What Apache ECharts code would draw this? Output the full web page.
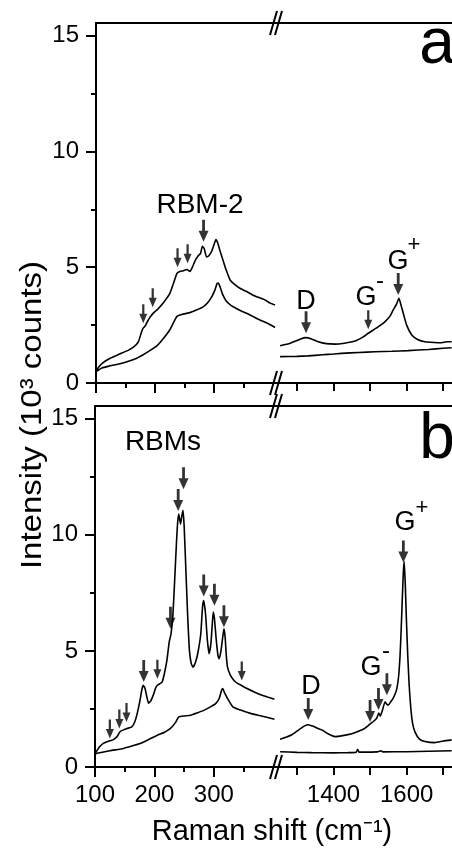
<!DOCTYPE html>
<html>
<head>
<meta charset="utf-8">
<script src="https://cdn.jsdelivr.net/npm/echarts@6/dist/echarts.min.js"></script>
<style>
html,body{margin:0;padding:0;background:#fff;}
#chart{width:452px;height:849px;}
</style>
</head>
<body>
<div id="chart"></div>
<script>
// ---------------- DATA ----------------
// x ranges (Raman shift, cm^-1) and y range (10^3 counts)
const lowRange = [100, 408];
const highRange = [1251, 1724];
const yRange = [0, 15.55];
const yTicks = [0, 5, 10, 15];
const yMinorTicks = [2.5, 7.5, 12.5];
const lowTicks = [100, 200, 300];
const lowMinorTicks = [150, 250, 350];
const highTicks = [1300, 1400, 1500, 1600, 1700];
const highLabels = [1400, 1600];

// Panel a, RBM region
const aLowUpper = [[100,0.49],[105,0.7],[112,0.88],[124,1.07],[140,1.25],[155,1.42],[166,1.6],[172,1.8],[177,2.2],[180,2.38],[183,2.45],[188,2.7],[192,2.86],[197,3.02],[205,3.2],[215,3.5],[225,3.87],[231,4.3],[237,4.74],[242,4.82],[248,4.85],[254,4.9],[259,4.82],[263,5.0],[268,5.3],[273,5.5],[277,5.6],[280,5.9],[283,5.82],[287,5.45],[291,5.5],[296,5.7],[300,6.0],[303,6.2],[306,6.05],[310,5.7],[315,5.3],[320,4.9],[327,4.45],[335,4.25],[345,4.07],[355,3.95],[365,3.8],[375,3.7],[385,3.6],[395,3.45],[403,3.37]];
const aLowLower = [[100,0.49],[110,0.65],[122,0.73],[135,0.8],[150,0.9],[169,1.07],[185,1.3],[203,1.6],[215,1.95],[225,2.3],[232,2.65],[237,2.88],[245,2.96],[259,3.04],[270,3.15],[282,3.3],[290,3.5],[296,3.73],[301,4.0],[305,4.3],[307,4.32],[310,4.15],[314,3.85],[320,3.55],[327,3.38],[333,3.28],[345,3.12],[361,2.94],[375,2.75],[390,2.58],[403,2.4]];
// Panel a, D/G region
const aHighUpper = [[1254,1.61],[1275,1.68],[1295,1.8],[1310,1.9],[1324,1.96],[1340,1.9],[1358,1.78],[1380,1.7],[1404,1.68],[1430,1.72],[1459,1.81],[1480,1.98],[1495,2.15],[1520,2.4],[1541,2.65],[1555,2.9],[1563,3.15],[1572,3.4],[1579,3.66],[1584,3.4],[1591,3.0],[1600,2.5],[1614,2.07],[1630,1.88],[1650,1.78],[1675,1.75],[1696,1.74],[1710,1.78],[1723,1.78]];
const aHighLower = [[1254,1.14],[1300,1.15],[1330,1.17],[1370,1.22],[1400,1.25],[1422,1.28],[1470,1.32],[1513,1.35],[1560,1.37],[1604,1.4],[1660,1.45],[1700,1.5],[1723,1.52]];
// Panel b, RBM region
const bLowUpper = [[100,0.56],[107,0.85],[114,1.02],[125,1.13],[131,1.18],[137,1.3],[142,1.52],[148,1.6],[154,1.66],[162,1.73],[167,1.95],[171,2.3],[176,2.9],[179,3.35],[181,3.52],[184,3.4],[187,3.05],[190,2.75],[194,2.85],[199,3.16],[202,3.4],[205,3.52],[210,3.6],[213,3.66],[217,4.05],[221,4.59],[225,5.4],[228,5.74],[231,6.5],[234,8.0],[237,9.6],[239,10.5],[241,10.9],[244,10.46],[246,10.8],[248,11.06],[250,10.4],[253,8.45],[256,6.5],[259,5.0],[262,4.45],[265,4.3],[269,4.5],[273,4.9],[278,5.73],[281,6.9],[283,7.17],[286,6.6],[289,5.5],[292,4.88],[295,5.3],[297,6.0],[299,6.67],[301,6.4],[304,5.5],[307,4.8],[309,4.66],[312,5.0],[315,5.6],[317,5.95],[319,5.6],[321,4.8],[323,4.3],[328,3.95],[334,3.73],[340,3.6],[346,3.52],[356,3.38],[368,3.23],[380,3.1],[392,3.0],[402,2.92]];
const bLowLower = [[100,0.56],[108,0.61],[125,0.7],[148,0.8],[162,0.9],[176,1.01],[190,1.18],[205,1.37],[217,1.5],[227,1.66],[235,1.9],[241,2.16],[250,2.2],[261,2.23],[272,2.33],[284,2.45],[295,2.6],[303,2.73],[309,2.95],[313,3.3],[315,3.38],[318,3.2],[323,2.95],[332,2.59],[345,2.45],[363,2.3],[380,2.2],[402,2.06]];
// Panel b, D/G region
const bHighUpper = [[1254,1.2],[1270,1.28],[1286,1.39],[1305,1.6],[1320,1.76],[1331,1.82],[1345,1.75],[1358,1.66],[1368,1.6],[1385,1.43],[1404,1.31],[1425,1.35],[1450,1.43],[1470,1.55],[1486,1.67],[1500,1.85],[1509,1.96],[1518,2.1],[1524,2.32],[1528,2.2],[1533,2.4],[1541,2.81],[1546,2.7],[1550,2.67],[1556,2.8],[1563,2.96],[1572,3.3],[1578,3.9],[1582,4.8],[1585,5.9],[1588,7.2],[1591,8.4],[1593,8.85],[1596,8.0],[1599,6.5],[1603,4.8],[1607,3.5],[1611,2.6],[1616,1.9],[1623,1.5],[1635,1.2],[1650,1.1],[1677,1.05],[1700,1.12],[1723,1.17]];
const bHighLower = [[1254,0.66],[1300,0.63],[1340,0.62],[1400,0.61],[1440,0.62],[1462,0.64],[1466,0.76],[1470,0.64],[1520,0.65],[1530,0.7],[1535,0.65],[1600,0.66],[1660,0.68],[1723,0.7]];

// Arrow tips
const aLowArrowsSmall = [[180,2.58],[196,3.27],[238,5.0],[255,5.17]];
const aLowArrowsBig = [[282,6.1]];
const aHighArrowsSmall = [[1495,2.32]];
const aHighArrowsBig = [[1325,2.15],[1577,3.8]];
const bLowArrowsSmall = [[125,1.23],[141,1.66],[153,1.94],[205,3.8],[347,3.73]];
const bLowArrowsBig = [[182,3.66],[227,5.95],[240,11.03],[249,11.96],[283,7.34],[301,6.95],[317,6.02]];
const bHighArrowsSmall = [];
const bHighArrowsBig = [[1331,2.02],[1500,1.94],[1523,2.45],[1546,3.09],[1591,8.81]];

// ---------------- CHART ----------------
const FONT = "'Liberation Sans', Arial, sans-serif";
const chart = echarts.init(document.getElementById('chart'), null, {renderer: 'canvas'});

const grids = [
  {left: 96, top: 23, width: 182, height: 360},   // a low
  {left: 279, top: 23, width: 173, height: 360},  // a high
  {left: 95, top: 406, width: 183, height: 361},  // b low
  {left: 279, top: 406, width: 173, height: 361}  // b high
];

const xAxes = [], yAxes = [], series = [];
const axisLineStyle = {color: '#000', width: 2};
const arrowPath = 'path://M3.6,0 L6.4,0 L6.4,11 L10,11 L5,22 L0,11 L3.6,11 Z';
const plainNum = v => String(v);

function addPanel(gi, isLow, showXLabels, upper, lower, arrowsSmall, arrowsBig) {
  const range = isLow ? lowRange : highRange;
  const xi = xAxes.length;
  xAxes.push({
    gridIndex: gi, type: 'value', position: 'bottom', min: range[0], max: range[1],
    axisLine: {show: true, onZero: false, lineStyle: axisLineStyle},
    axisTick: {show: true, inside: false, length: isLow ? 10 : 8, lineStyle: {width: 2, color: '#000'},
               customValues: isLow ? lowTicks : highTicks},
    axisLabel: {show: showXLabels, customValues: isLow ? lowTicks : highLabels, color: '#000',
                fontSize: 24, fontFamily: FONT, margin: 16, formatter: plainNum},
    splitLine: {show: false}
  });
  if (isLow) {
    xAxes.push({
      gridIndex: gi, type: 'value', position: 'bottom', min: range[0], max: range[1],
      axisLine: {show: false, onZero: false},
      axisTick: {show: true, length: 5, lineStyle: {width: 2, color: '#000'}, customValues: lowMinorTicks},
      axisLabel: {show: false}, splitLine: {show: false}
    });
  }
  xAxes.push({
    gridIndex: gi, type: 'value', position: 'top', min: range[0], max: range[1],
    axisLine: {show: true, onZero: false, lineStyle: axisLineStyle},
    axisTick: {show: false}, axisLabel: {show: false}, splitLine: {show: false}
  });
  const yi = yAxes.length;
  yAxes.push({
    gridIndex: gi, type: 'value', position: 'left', min: yRange[0], max: yRange[1], show: isLow,
    axisLine: {show: true, onZero: false, lineStyle: axisLineStyle},
    axisTick: {show: true, length: 10, lineStyle: {width: 2, color: '#000'}, customValues: yTicks},
    axisLabel: {show: true, customValues: yTicks, color: '#000', fontSize: 24, fontFamily: FONT, margin: 17,
                formatter: plainNum},
    splitLine: {show: false}
  });
  if (isLow) {
    yAxes.push({
      gridIndex: gi, type: 'value', position: 'left', min: yRange[0], max: yRange[1],
      axisLine: {show: false, onZero: false},
      axisTick: {show: true, length: 5, lineStyle: {width: 2, color: '#000'}, customValues: yMinorTicks},
      axisLabel: {show: false}, splitLine: {show: false}
    });
  }
  [upper, lower].forEach(d => {
    series.push({
      type: 'line', xAxisIndex: xi, yAxisIndex: yi, data: d, showSymbol: false,
      smooth: 0.15, lineStyle: {color: '#000', width: 1.6}, silent: true, z: 3
    });
  });
  series.push({
    type: 'scatter', xAxisIndex: xi, yAxisIndex: yi, data: arrowsSmall,
    symbol: arrowPath, symbolSize: [8, 19], symbolOffset: [0, '-50%'],
    itemStyle: {color: '#000'}, silent: true, z: 4
  });
  series.push({
    type: 'scatter', xAxisIndex: xi, yAxisIndex: yi, data: arrowsBig,
    symbol: arrowPath, symbolSize: [10, 22], symbolOffset: [0, '-50%'],
    itemStyle: {color: '#000'}, silent: true, z: 4
  });
}

addPanel(0, true, false, aLowUpper, aLowLower, aLowArrowsSmall, aLowArrowsBig);
addPanel(1, false, false, aHighUpper, aHighLower, aHighArrowsSmall, aHighArrowsBig);
addPanel(2, true, true, bLowUpper, bLowLower, bLowArrowsSmall, bLowArrowsBig);
addPanel(3, false, true, bHighUpper, bHighLower, bHighArrowsSmall, bHighArrowsBig);

// decorations: axis break marks and text annotations
const graphics = [];
function brk(x, y) {
  [0, 5].forEach(dx => {
    graphics.push({type: 'line', shape: {x1: x - 5 + dx, y1: y + 12, x2: x + 2 + dx, y2: y - 12},
                   style: {stroke: '#000', lineWidth: 2}, z: 10});
  });
}
brk(275, 23); brk(275, 383); brk(275, 406); brk(275, 767);

function txt(s, x, y, size, extra) {
  graphics.push(Object.assign({
    type: 'text', x: x, y: y, z: 10,
    style: {text: s, font: size + 'px ' + FONT, fill: '#000', align: 'center', verticalAlign: 'middle'}
  }, extra || {}));
}
// panel a
txt('a', 437, 45, 64);
txt('RBM-2', 200, 205, 28);
txt('D', 306, 302, 27);
txt('G', 366, 298, 27);
txt('-', 380, 281, 24);
txt('G', 398, 262, 27);
txt('+', 414, 245, 22);
// panel b
txt('b', 437, 440, 64);
txt('RBMs', 163, 442, 28);
txt('D', 311, 687, 27);
txt('G', 371, 668, 27);
txt('-', 386, 651, 24);
txt('G', 405, 523, 27);
txt('+', 422, 508, 22);
// axis titles
txt('Raman shift (cm\u207B\u00B9)', 272, 832, 29);
txt('Intensity (10\u00B3 counts)', 33, 415, 30, {rotation: Math.PI / 2, scaleX: 1.1});

chart.setOption({
  animation: false,
  backgroundColor: '#fff',
  grid: grids,
  xAxis: xAxes,
  yAxis: yAxes,
  series: series,
  graphic: {elements: graphics}
});
</script>
</body>
</html>
